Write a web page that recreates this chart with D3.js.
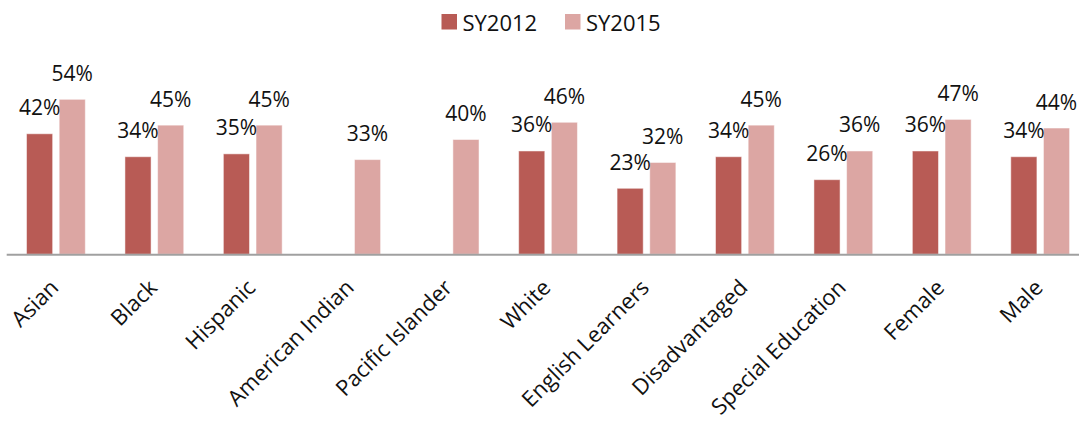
<!DOCTYPE html>
<html>
<head>
<meta charset="utf-8">
<script src="https://cdn.jsdelivr.net/npm/d3@7"></script>
<style>
    body { margin: 0; background: #fff; }
    text { font-family: "Open Sans", sans-serif; fill: #111; }
</style>
</head>
<body>
<div id="chart"></div>
<script>
const categories = ["Asian", "Black", "Hispanic", "American Indian", "Pacific Islander", "White",
    "English Learners", "Disadvantaged", "Special Education", "Female", "Male"];
const seriesNames = ["SY2012", "SY2015"];
const sy2012 = [42, 34, 35, null, null, 36, 23, 34, 26, 36, 34];
const sy2015 = [54, 45, 45, 33, 40, 46, 32, 45, 36, 47, 44];
const colors = ["#B85B55", "#DCA6A3"];

// table for d3
const data = categories.map((c, i) => ({
    category: c,
    values: [
        {series: seriesNames[0], value: sy2012[i]},
        {series: seriesNames[1], value: sy2015[i]}
    ]
}));

const width = 1079;
const height = 421;
const baseline = 254.3;

const svg = d3.select("#chart")
    .append("svg")
    .attr("width", width)
    .attr("height", height);

const x0 = d3.scaleBand()
    .domain(categories)
    .range([6.7, 1089.4])
    .padding(0);

const groupWidth = 58.8;
const x1 = d3.scaleBand()
    .domain(seriesNames)
    .range([0, groupWidth])
    .paddingInner(0.2);

const y = d3.scaleLinear()
    .domain([0, 60])
    .range([baseline, baseline - 172.2]);

const color = d3.scaleOrdinal()
    .domain(seriesNames)
    .range(colors);

const groups = svg.selectAll("g.cat")
    .data(data)
    .enter().append("g")
    .attr("class", "cat")
    .attr("transform", d => `translate(${x0(d.category) + (x0.bandwidth() - groupWidth) / 2},0)`);

const present = d => d.values.filter(v => v.value !== null);

groups.selectAll("rect")
    .data(present)
    .enter().append("rect")
    .attr("x", v => x1(v.series))
    .attr("y", v => y(v.value))
    .attr("width", x1.bandwidth())
    .attr("height", v => y(0) - y(v.value))
    .attr("fill", v => color(v.series))
    .attr("stroke", "#fff")
    .attr("stroke-opacity", 0.5)
    .attr("stroke-width", 1);

// value labels above bars
groups.selectAll("text.val")
    .data(present)
    .enter().append("text")
    .attr("class", "val")
    .attr("x", v => x1(v.series) + x1.bandwidth() / 2)
    .attr("y", v => y(v.value) - 18.5)
    .attr("text-anchor", "middle")
    .style("font-size", "21px")
    .text(v => v.value + "%");

// x axis line
svg.append("line")
    .attr("x1", x0.range()[0])
    .attr("x2", width)
    .attr("y1", baseline + 0.5)
    .attr("y2", baseline + 0.5)
    .attr("stroke", "#A0A0A0")
    .attr("stroke-width", 2);

// rotated category labels
svg.selectAll("text.cat-label")
    .data(categories)
    .enter().append("text")
    .attr("class", "cat-label")
    .attr("text-anchor", "end")
    .attr("transform", c => {
        const cx = x0(c) + x0.bandwidth() / 2 + 4;
        return `translate(${cx},${289}) rotate(-45)`;
    })
    .style("font-size", "22px")
    .text(c => c);

// legend
const legend = svg.append("g")
    .attr("transform", "translate(441.5,14)");

const item = legend.selectAll("g")
    .data(seriesNames)
    .enter().append("g")
    .attr("transform", (d, i) => `translate(${i * 123.5},0)`);

item.append("rect")
    .attr("width", 15.5)
    .attr("height", 15.5)
    .attr("fill", d => color(d));

item.append("text")
    .attr("x", 21)
    .attr("y", 16.5)
    .style("font-size", "22px")
    .text(d => d);
</script>
</body>
</html>
